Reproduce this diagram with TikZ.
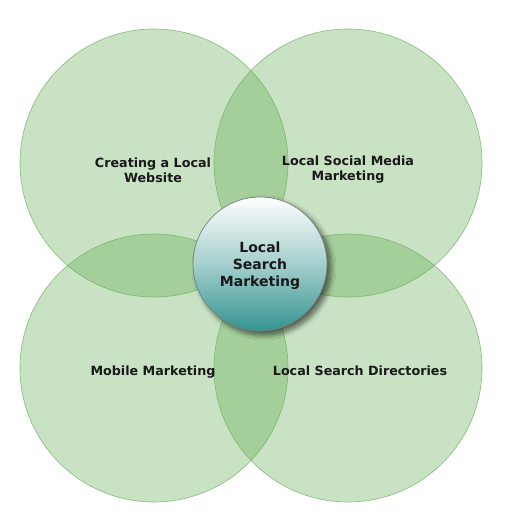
\documentclass[tikz,border=0pt]{standalone}
\usepackage{fontspec}
\setmainfont{DejaVu Sans}
\usetikzlibrary{shadows.blur}
\definecolor{venn}{RGB}{96,171,81}
\definecolor{vennline}{RGB}{110,175,100}
\definecolor{teal}{RGB}{52,148,144}
\definecolor{rim}{RGB}{125,125,125}
\tikzset{
  petal/.style={circle, minimum size=268pt, inner sep=0pt, fill=venn, fill opacity=0.345, draw=vennline, draw opacity=0.8, line width=0.6pt},
  lbl/.style={font=\bfseries\fontsize{12.7}{15}\selectfont, align=center, text=black!90},
  hub/.style={circle, minimum size=134pt, inner sep=0pt, draw=rim, line width=0.7pt,
    top color=white, bottom color=teal, middle color=teal!45!white,
    blur shadow={shadow xshift=4pt, shadow yshift=-4pt, shadow blur radius=5pt, shadow blur steps=14, shadow opacity=60},
    font=\bfseries\fontsize{14}{17}\selectfont, align=center, text=black!90}
}
\begin{document}
\begin{tikzpicture}[x=1pt,y=-1pt]
\useasboundingbox (0,0) rectangle (514,525);
\node[petal] (tl) at (154,163) {};
\node[petal] (tr) at (348,163) {};
\node[petal] (bl) at (154,368) {};
\node[petal] (br) at (348,368) {};
\node[lbl] (tlt) at (153,170) {Creating a Local\\Website};
\node[lbl] (trt) at (348,170) {Local Social Media\\Marketing};
\node[lbl] (blt) at (153,372) {Mobile Marketing};
\node[lbl] (brt) at (360,371) {Local Search Directories};
\node[hub] (c) at (260,264) {};
\node[font=\bfseries\fontsize{14}{17}\selectfont, align=center, text=black!90] (ct) at (260,265.5) {Local\\Search\\Marketing};
\end{tikzpicture}
\end{document}
